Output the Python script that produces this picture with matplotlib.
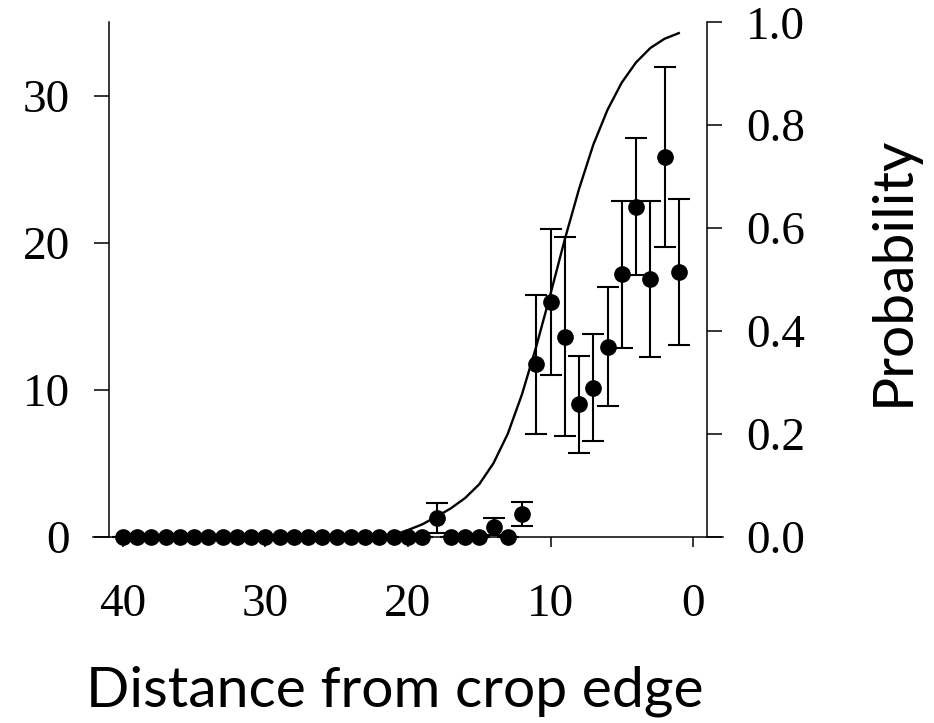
import numpy as np
import matplotlib
matplotlib.use("Agg")
import matplotlib.pyplot as plt

# distance from crop edge (x) and mean count with error
distance = list(range(40, 0, -1))
counts = [0] * 22 + [1.25, 0, 0, 0, 0.68, 0, 1.52, 11.73, 15.96, 13.62,
                     9.01, 10.14, 12.94, 17.86, 22.46, 17.54, 25.83, 18.0]
errors = [0] * 22 + [1.02, 0, 0, 0, 0.57, 0, 0.82, 4.72, 4.96, 6.8,
                     3.3, 3.63, 4.05, 5.0, 4.68, 5.3, 6.1, 4.95]

# fitted probability curve
curve_x = [20.5, 20, 19, 18, 17, 16, 15, 14, 13, 12, 11, 10, 9, 8, 7, 6, 5, 4, 3, 2, 1]
curve_p = [0.008, 0.013, 0.024, 0.039, 0.055, 0.075, 0.102, 0.143, 0.200, 0.277,
           0.370, 0.472, 0.578, 0.676, 0.762, 0.830, 0.883, 0.922, 0.950, 0.968, 0.979]

left_ticks = [0, 10, 20, 30]
right_ticks = [0.0, 0.2, 0.4, 0.6, 0.8, 1.0]
x_ticks = [40, 30, 20, 10, 0]

serif = "Liberation Serif"
sans = "Lato"

fig = plt.figure(figsize=(9.34, 7.23), dpi=100)
ax = fig.add_axes([93 / 934, (723 - 536.7) / 723, 630 / 934, (536.7 - 22.3) / 723])
ax.set_xlim(42.1, -2.1)
ax.set_ylim(0, 35)

ax.errorbar(distance, counts, yerr=errors, fmt="o", color="black", ms=11,
            elinewidth=1.5, capsize=8, capthick=1.5, clip_on=False, zorder=5)

ax.spines["top"].set_visible(False)
ax.spines["right"].set_visible(False)
ax.spines["left"].set_position(("data", 41))
for s in ["left", "bottom"]:
    ax.spines[s].set_linewidth(1.1)

ax.set_xticks(x_ticks)
ax.set_yticks(left_ticks)
ax.tick_params(axis="y", direction="out", length=10.8, width=1.1, pad=17, labelsize=34)
ax.tick_params(axis="x", direction="out", length=7.5, width=1.1, pad=26, labelsize=34)
for lab in ax.get_xticklabels() + ax.get_yticklabels():
    lab.set_family(serif)

ax2 = ax.twinx()
ax2.set_ylim(0, 1)
ax2.plot(curve_x, curve_p, color="black", lw=1.7)
for s in ["top", "left", "bottom"]:
    ax2.spines[s].set_visible(False)
ax2.spines["right"].set_position(("data", -1))
ax2.spines["right"].set_linewidth(1.1)
ax2.set_yticks(right_ticks)
ax2.set_yticklabels([f"{t:.1f}" for t in right_ticks])
ax2.tick_params(axis="y", direction="out", length=10.8, width=1.1, pad=17, labelsize=34)
for lab in ax2.get_yticklabels():
    lab.set_family(serif)

fig.text(395 / 934, (723 - 706.7) / 723, "Distance from crop edge", family=sans,
         fontsize=41, ha="center", va="baseline")
fig.text(893 / 934, (723 - 270.5) / 723, "Probability", family=sans,
         fontsize=41, rotation=90, ha="center", va="center")

fig.savefig("out.png", dpi=100)
